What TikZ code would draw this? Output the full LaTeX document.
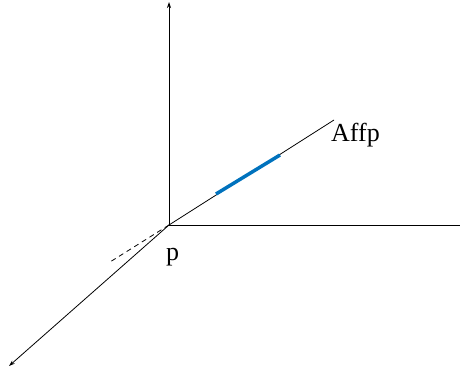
\documentclass[tikz,border=0pt]{standalone}
\usepackage{fontspec}
\setmainfont{Liberation Serif}
\usetikzlibrary{arrows.meta}
\definecolor{segblue}{RGB}{0,114,189}
\begin{document}
\begin{tikzpicture}[x=1pt,y=-1pt,
  axis/.style={line width=0.8pt,black},
  tip/.style={-{Stealth[length=6pt,width=4pt]}},
  lbl/.style={font=\fontsize{26}{30}\selectfont,inner sep=0pt},
  seg/.style={line width=3.5pt,segblue},
  ext/.style={line width=0.8pt,dash pattern=on 5pt off 4pt}]
\useasboundingbox (0,0) rectangle (460,371);
\coordinate (p) at (169,225);
\coordinate (ztop) at (169,2);
\coordinate (xend) at (460,225);
\coordinate (yend) at (9,366);
\coordinate (aend) at (334,120);
\coordinate (dend) at (110,262);
\coordinate (b1) at (216,194);
\coordinate (b2) at (280,155);
\draw[axis,tip] (p) -- (ztop);
\draw[axis] (p) -- (xend);
\draw[axis,tip] (p) -- (yend);
\draw[axis] (p) -- (aend);
\draw[ext] (p) -- (dend);
\draw[seg] (b1) -- (b2);
\node[lbl,anchor=base west] (aff) at (331,142) {Affp};
\node[lbl,anchor=base west] (plbl) at (166,260) {p};
\end{tikzpicture}
\end{document}
